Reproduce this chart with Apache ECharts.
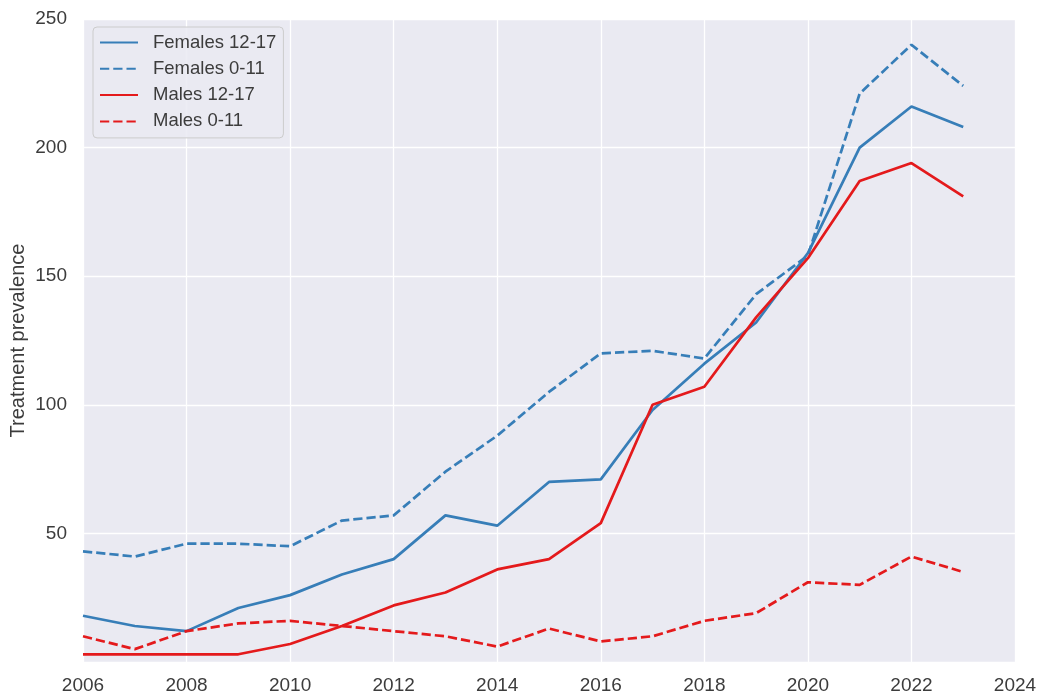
<!DOCTYPE html>
<html>
<head>
<meta charset="utf-8">
<script src="https://cdn.jsdelivr.net/npm/echarts@6/dist/echarts.min.js"></script>
<style>
html,body{margin:0;padding:0;background:#fff;}
#chart{width:1040px;height:697px;}
</style>
</head>
<body>
<div id="chart"></div>
<script>
const years = [2006,2007,2008,2009,2010,2011,2012,2013,2014,2015,2016,2017,2018,2019,2020,2021,2022,2023];
const females1217 = [18,14,12,21,26,34,40,57,53,70,71,98,116,132,159,200,216,208];
const females011  = [43,41,46,46,45,55,57,74,88,105,120,121,118,143,158,221,240,224];
const males1217   = [3,3,3,3,7,14,22,27,36,40,54,100,107,134,157,187,194,181];
const males011    = [10,5,12,15,16,14,12,10,6,13,8,10,16,19,31,30,41,35];
const seriesNames = ['Females 12-17','Females 0-11','Males 12-17','Males 0-11'];
const xTicks = [2006,2008,2010,2012,2014,2016,2018,2020,2022,2024];
const yTicks = [50,100,150,200,250];

const BLUE = '#377eb8', RED = '#e41a1c';
const FONT = 'Liberation Sans, Arial, sans-serif';
const TXT = '#3c3c3c';
const DASH = [9.25, 4];

function pairs(vals){ return years.map((y,i)=>[y, vals[i]]); }
function mk(name, vals, color, dashed){
  return {
    name, type:'line', data:pairs(vals), symbol:'none', showSymbol:false,
    lineStyle:{color, width:2.7, type: dashed ? DASH : 'solid', cap:'butt'},
    itemStyle:{color}, emphasis:{disabled:true}, animation:false
  };
}

const chart = echarts.init(document.getElementById('chart'), null, {renderer:'canvas'});
chart.setOption({
  animation:false,
  backgroundColor:'#ffffff',
  grid:{left:83, right:25, top:19, bottom:35, show:true, backgroundColor:'#eaeaf2', borderWidth:0,
        containLabel:false, outerBoundsMode:'none'},
  xAxis:{
    type:'value', min:2006, max:2024, interval:2,
    axisLine:{show:false}, axisTick:{show:false},
    splitLine:{show:true, lineStyle:{color:'#ffffff', width:1.3}},
    axisLabel:{color:TXT, fontSize:19, fontFamily:FONT, margin:14,
      formatter:v => xTicks.includes(v) ? String(v) : ''}
  },
  yAxis:{
    type:'value', min:0, max:250, interval:50,
    name:'Treatment prevalence', nameLocation:'middle', nameGap:55, nameMoveOverlap:false,
    nameTextStyle:{color:TXT, fontSize:20, fontFamily:FONT},
    axisLine:{show:false}, axisTick:{show:false},
    splitLine:{show:true, lineStyle:{color:'#ffffff', width:1.3}},
    axisLabel:{color:TXT, fontSize:19, fontFamily:FONT, margin:16, showMinLabel:false,
      formatter:v => yTicks.includes(v) ? String(v) : ''}
  },
  legend:{
    orient:'vertical', left:93, top:27,
    data:seriesNames,
    itemWidth:38, itemHeight:14, itemGap:7.3,
    padding:[6,7,7,6],
    backgroundColor:'rgba(234,234,242,0.85)',
    borderColor:'#cccccc', borderWidth:1, borderRadius:4,
    itemStyle:{opacity:0},
    textStyle:{color:TXT, fontSize:18.5, fontFamily:FONT, lineHeight:18, padding:[0,0,0,10]}
  },
  series:[
    mk(seriesNames[0], females1217, BLUE, false),
    mk(seriesNames[1], females011, BLUE, true),
    mk(seriesNames[2], males1217, RED, false),
    mk(seriesNames[3], males011, RED, true)
  ]
});
</script>
</body>
</html>
